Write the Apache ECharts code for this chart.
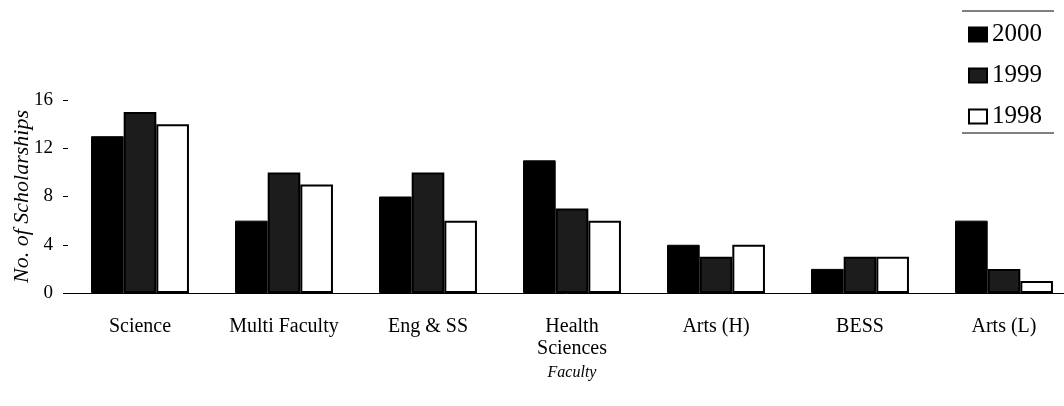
<!DOCTYPE html>
<html>
<head>
<meta charset="utf-8">
<script src="https://cdn.jsdelivr.net/npm/echarts@6/dist/echarts.min.js"></script>
<style>
  html, body { margin: 0; padding: 0; background: #fff; }
  #chart { width: 1064px; height: 406px; }
</style>
</head>
<body>
<div id="chart"></div>
<script>
// Scholarships awarded per faculty, 1998–2000
const faculties = ['Science', 'Multi Faculty', 'Eng & SS', 'Health\nSciences', 'Arts (H)', 'BESS', 'Arts (L)'];
const years = ['2000', '1999', '1998'];
const values2000 = [13, 6, 8, 11, 4, 2, 6];
const values1999 = [15, 10, 10, 7, 3, 3, 2];
const values1998 = [14, 9, 6, 6, 4, 3, 1];
const yTicks = [0, 4, 8, 12, 16];

const serif = '"Liberation Serif", "DejaVu Serif", serif';

const fills = {
  '2000': { color: '#000', borderColor: '#000', borderWidth: 1 },
  '1999': { color: '#1c1c1c', borderColor: '#000', borderWidth: 2 },
  '1998': { color: '#fff', borderColor: '#000', borderWidth: 2 }
};
const seriesValues = { '2000': values2000, '1999': values1999, '1998': values1998 };

const chart = echarts.init(document.getElementById('chart'), null, { renderer: 'canvas' });

chart.setOption({
  animation: false,
  backgroundColor: '#fff',
  textStyle: { fontFamily: serif, color: '#000' },
  grid: { left: 68, top: 100, width: 1008, height: 193, containLabel: false, outerBoundsMode: 'none' },
  legend: {
    orient: 'vertical',
    right: 17,
    top: 17,
    itemWidth: 18,
    itemHeight: 14,
    itemGap: 16,
    icon: 'rect',
    data: years,
    textStyle: { fontFamily: serif, fontSize: 25, color: '#000' }
  },
  graphic: [
    { type: 'line', shape: { x1: 962, y1: 11, x2: 1054, y2: 11 }, style: { stroke: '#000', lineWidth: 1 } },
    { type: 'line', shape: { x1: 962, y1: 133, x2: 1054, y2: 133 }, style: { stroke: '#000', lineWidth: 1 } }
  ],
  xAxis: {
    type: 'category',
    data: faculties,
    name: 'Faculty',
    nameLocation: 'middle',
    nameGap: 72,
    nameMoveOverlap: false,
    nameTextStyle: { fontFamily: serif, fontStyle: 'italic', fontSize: 16, color: '#000' },
    axisLine: { show: true, lineStyle: { color: '#000', width: 1 } },
    axisTick: { show: false },
    axisLabel: {
      fontFamily: serif, fontSize: 20, color: '#000', margin: 23, lineHeight: 22,
      interval: 0
    }
  },
  yAxis: {
    type: 'value',
    min: 0,
    max: 16,
    interval: 4,
    name: 'No. of Scholarships',
    nameLocation: 'middle',
    nameGap: 35,
    nameRotate: 90,
    nameMoveOverlap: false,
    nameTextStyle: { fontFamily: serif, fontStyle: 'italic', fontSize: 22, color: '#000' },
    axisLine: { show: false },
    axisTick: { show: true, length: 5, lineStyle: { color: '#000' } },
    splitLine: { show: false },
    axisLabel: {
      fontFamily: serif, fontSize: 19, color: '#000', margin: 15,
      formatter: v => (yTicks.includes(v) ? String(v) : '')
    }
  },
  series: years.map(y => ({
    name: y,
    type: 'bar',
    data: seriesValues[y],
    barGap: '0%',
    barCategoryGap: '32%',
    itemStyle: fills[y]
  }))
});
</script>
</body>
</html>
